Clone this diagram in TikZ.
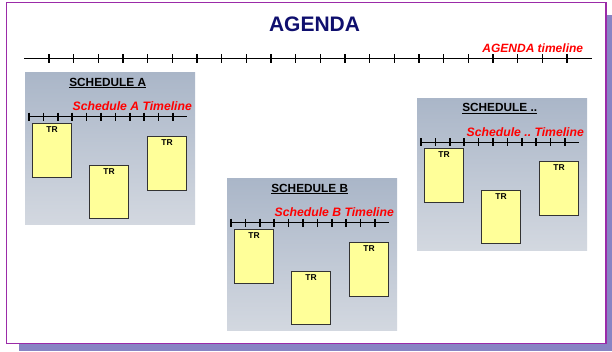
\documentclass[tikz,border=0pt]{standalone}
\usepackage{fontspec}
\setmainfont{Liberation Sans}
\usetikzlibrary{positioning}
\definecolor{purpleframe}{HTML}{9B2BA8}
\definecolor{shadowblue}{HTML}{8884C4}
\definecolor{navy}{HTML}{0F0F6E}
\definecolor{paneltop}{HTML}{AAB6C8}
\definecolor{panelbottom}{HTML}{D3D8E0}
\definecolor{lightyellow}{HTML}{FFFF99}
\definecolor{darkgray}{HTML}{333333}

\begin{document}
\begin{tikzpicture}[
  x=1pt, y=-1pt,
  panel/.style={anchor=north west, inner sep=0pt, top color=paneltop,
                bottom color=panelbottom, minimum width=170pt, minimum height=152pt},
  trbox/.style={draw=darkgray, line width=1.1pt, fill=lightyellow, anchor=north west,
                inner sep=0pt, minimum width=39pt, minimum height=54pt},
  trtext/.style={inner sep=0pt, font=\fontsize{8.5}{10}\selectfont\bfseries},
  schtitle/.style={anchor=base, inner sep=0pt, font=\fontsize{11.8}{13}\selectfont\bfseries},
  tltext/.style={anchor=base east, inner sep=0pt, text=red,
                 font=\fontsize{12.2}{14}\selectfont\bfseries\itshape},
  tline/.style={line width=1.3pt, draw=black},
  tick/.style={line width=1.5pt, draw=black}
]
  \useasboundingbox (0,0) rectangle (612,351);

  % page with drop shadow
  \fill[shadowblue] (19,15) rectangle (612,351);
  \draw[purpleframe, line width=1.5pt, fill=white] (6.5,2.7) rectangle (606,343.3);

  \node[anchor=base, inner sep=0pt, text=navy,
        font=\fontsize{21}{25}\selectfont\bfseries] (agenda) at (314.5,31) {AGENDA};

  % top level timeline
  \coordinate (agstart) at (24,58.3);
  \coordinate (agend) at (592,58.3);
  \draw[tline] (agstart) -- (agend);
  \foreach \i in {0,...,21}
    \draw[tick] ({49+\i*24.67},54) -- ++(0,8.6);
  \node[tltext, font=\fontsize{12}{14}\selectfont\bfseries\itshape] (agendatl)
    at (583.3,52.3) {AGENDA timeline};

  % one panel per schedule
  \foreach \n/\x/\y/\t in {A/25/72.5/A, B/227/178.5/B, C/417/98/..}{
    \begin{scope}[shift={(\x,\y)}]
      \node[panel] (panel\n) at (0,0) {};
      \node[schtitle] (title\n) at (82.7,13.5) {\underline{SCHEDULE \t}};
      \node[tltext] (tl\n) at (167,38.2) {Schedule \t\ Timeline};
      \coordinate (start\n) at (4,44.2);
      \coordinate (end\n) at (162,44.2);
      \draw[tline] (start\n) -- (end\n);
      \foreach \k in {0,...,10}
        \draw[tick] ({4+\k*14.4},40.2) -- ++(0,8);
      \node[trbox] (tr\n1) at (7,50) {};
      \node[trbox, minimum height=53pt] (tr\n2) at (64,92) {};
      \node[trbox] (tr\n3) at (122,63) {};
      \foreach \j in {1,2,3}
        \node[trtext, below=3.5pt of tr\n\j.north] (trlabel\n\j) {TR};
    \end{scope}
  }
\end{tikzpicture}
\end{document}
